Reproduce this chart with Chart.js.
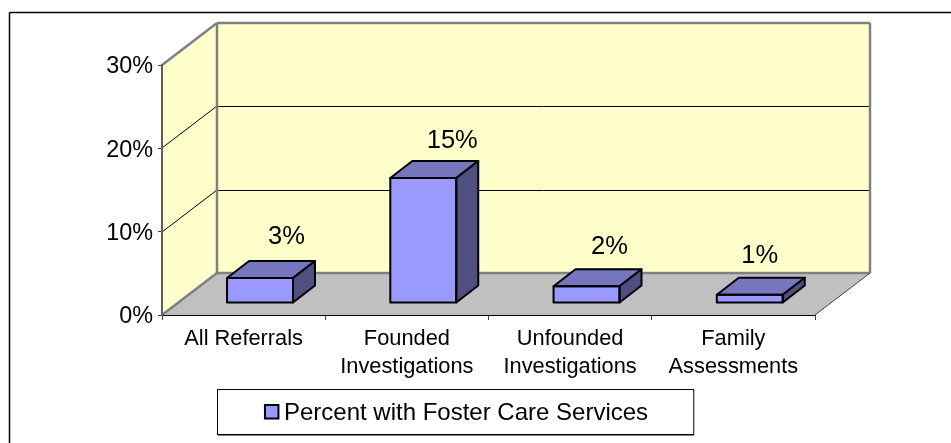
<!DOCTYPE html>
<html>
<head>
<meta charset="utf-8">
<title>Percent with Foster Care Services</title>
<script src="https://cdn.jsdelivr.net/npm/chart.js@4"></script>
<style>
  html, body { margin: 0; padding: 0; background: #fff; }
  canvas { display: block; }
</style>
</head>
<body>
<canvas id="fosterChart" width="951" height="443"></canvas>
<script>
const CATEGORIES = [
  ["All Referrals"],
  ["Founded", "Investigations"],
  ["Unfounded", "Investigations"],
  ["Family", "Assessments"]
];
const SERIES_NAME = "Percent with Foster Care Services";
const PERCENT_VALUES = [3, 15, 2, 1];
const VALUE_LABELS = ["3%", "15%", "2%", "1%"];
const Y_TICKS = [0, 10, 20, 30];

const FONT = "'Liberation Sans', Arial, sans-serif";
const CATEGORY_SIZE = 21.8;
const Y_TICK_SIZE = 23.4;
const VALUE_SIZE = 25.5;
const LEGEND_SIZE = 24;

// 3d look: how far the back wall and the bars sit from the front plane
const WALL_DEPTH = { x: 55, y: -42 };
const BAR_SHIFT = { x: 16.4, y: -12 };
const BAR_DEPTH = { x: 22, y: -17 };
// data labels were hand placed in the original, so they wander a bit
const LABEL_DX = [26.5, 29, 23, 10];
const LABEL_GAP = [17, 13, 15, 15];

function poly(ctx, pts, fill, stroke, lw) {
  ctx.beginPath();
  pts.forEach((p, i) => (i ? ctx.lineTo(p[0], p[1]) : ctx.moveTo(p[0], p[1])));
  ctx.closePath();
  if (fill) {
    ctx.fillStyle = fill;
    ctx.fill();
  }
  if (stroke) {
    ctx.strokeStyle = stroke;
    ctx.lineWidth = lw;
    ctx.stroke();
  }
}

function line(ctx, x0, y0, x1, y1, color, lw) {
  ctx.beginPath();
  ctx.moveTo(x0, y0);
  ctx.lineTo(x1, y1);
  ctx.strokeStyle = color;
  ctx.lineWidth = lw;
  ctx.stroke();
}

const wallsPlugin = {
  id: "walls",
  beforeDraw(chart) {
    const { ctx, chartArea: a, scales } = chart;
    const dx = WALL_DEPTH.x;
    const dy = WALL_DEPTH.y;

    ctx.save();

    // outer frame, only the top and left edges are inside the picture
    line(ctx, 9.5, 12.5, 951, 12.5, "#000", 1.5);
    line(ctx, 9.5, 12.5, 9.5, 443, "#000", 1.5);

    // back wall, side wall, floor
    poly(ctx, [[a.left + dx, a.top + dy], [a.right + dx, a.top + dy], [a.right + dx, a.bottom + dy], [a.left + dx, a.bottom + dy]], "#FFFFCC");
    poly(ctx, [[a.left, a.top], [a.left + dx, a.top + dy], [a.left + dx, a.bottom + dy], [a.left, a.bottom]], "#FFFFCC");
    poly(ctx, [[a.left, a.bottom], [a.left + dx, a.bottom + dy], [a.right + dx, a.bottom + dy], [a.right, a.bottom]], "#C0C0C0");

    // gridlines run along the side wall and across the back wall
    Y_TICKS.slice(1, -1).forEach(v => {
      const y = Math.round(scales.y.getPixelForValue(v));
      line(ctx, a.left, y, a.left + dx, y + dy, "#000", 1);
      line(ctx, a.left + dx, y + dy + 0.5, a.right + dx, y + dy + 0.5, "#000", 1);
    });

    // wall edges
    const grey = "#808080";
    line(ctx, a.left, a.top, a.left + dx, a.top + dy, grey, 2.5);
    line(ctx, a.left + dx, a.top + dy, a.right + dx, a.top + dy, grey, 2.5);
    line(ctx, a.right + dx, a.top + dy, a.right + dx, a.bottom + dy, grey, 2.5);
    line(ctx, a.left + dx, a.top + dy, a.left + dx, a.bottom + dy, grey, 2.5);
    line(ctx, a.left + dx, a.bottom + dy, a.right + dx, a.bottom + dy, grey, 2.5);
    line(ctx, a.left, a.bottom, a.left + dx, a.bottom + dy, grey, 2.5);
    line(ctx, a.right, a.bottom, a.right + dx, a.bottom + dy, "#404040", 1);

    ctx.restore();
  },
  beforeDatasetsDraw(chart) {
    chart.ctx.save();
    chart.ctx.translate(BAR_SHIFT.x, BAR_SHIFT.y);
  },
  afterDatasetsDraw(chart) {
    const ctx = chart.ctx;
    const bars = chart.getDatasetMeta(0).data;
    const dx = BAR_DEPTH.x;
    const dy = BAR_DEPTH.y;

    ctx.lineJoin = "round";
    bars.forEach(b => {
      const l = b.x - b.width / 2;
      const r = b.x + b.width / 2;
      const t = b.y;
      const base = b.base;
      poly(ctx, [[l, t], [l + dx, t + dy], [r + dx, t + dy], [r, t]], "#7676BE", "#000", 2);
      poly(ctx, [[r, t], [r + dx, t + dy], [r + dx, base + dy], [r, base]], "#4F4F80", "#000", 2);
      poly(ctx, [[l, t], [r, t], [r, base], [l, base]], null, "#000", 2);
    });
    ctx.restore();

    // value labels over the bars
    ctx.save();
    ctx.font = `${VALUE_SIZE}px ${FONT}`;
    ctx.fillStyle = "#000";
    ctx.textAlign = "center";
    ctx.textBaseline = "alphabetic";
    bars.forEach((b, i) => {
      const x = b.x + BAR_SHIFT.x + LABEL_DX[i];
      const y = b.y + BAR_SHIFT.y + dy - LABEL_GAP[i];
      ctx.fillText(VALUE_LABELS[i], x, y);
    });
    ctx.restore();
  },
  afterDraw(chart) {
    const ctx = chart.ctx;
    const hit = chart.legend.legendHitBoxes[0];

    ctx.save();
    // legend frame, heavier on the right and bottom
    ctx.strokeStyle = "#000";
    ctx.lineWidth = 1;
    ctx.strokeRect(217.5, 389.5, 476, 45);
    line(ctx, 694, 390, 694, 435.5, "#808080", 1);
    line(ctx, 218, 435.5, 694, 435.5, "#808080", 1);

    // legend swatch
    ctx.fillStyle = "#9999FF";
    ctx.strokeStyle = "#000";
    ctx.lineWidth = 2;
    ctx.fillRect(hit.left + 2, 405, 13.5, 13.5);
    ctx.strokeRect(hit.left + 2, 405, 13.5, 13.5);
    ctx.restore();
  }
};

new Chart(document.getElementById("fosterChart"), {
  type: "bar",
  plugins: [wallsPlugin],
  data: {
    labels: CATEGORIES,
    datasets: [{
      label: SERIES_NAME,
      data: PERCENT_VALUES,
      backgroundColor: "#9999FF",
      borderWidth: 0,
      barPercentage: 0.404,
      categoryPercentage: 1,
      clip: false
    }]
  },
  options: {
    responsive: false,
    animation: false,
    font: { family: FONT },
    layout: { padding: { left: 96, right: 136, top: 65, bottom: 8 } },
    plugins: {
      tooltip: { enabled: false },
      legend: {
        position: "bottom",
        labels: {
          color: "#000",
          font: { family: FONT, size: LEGEND_SIZE },
          boxWidth: 9,
          boxHeight: 0,
          padding: 11,
          generateLabels: chart => [{
            text: SERIES_NAME,
            fillStyle: "transparent",
            strokeStyle: "transparent",
            lineWidth: 0,
            datasetIndex: 0
          }]
        }
      }
    },
    scales: {
      x: {
        afterFit: s => { s.height = 75; },
        border: { color: "#000", width: 1 },
        grid: { drawOnChartArea: false, color: "#404040", tickLength: 5 },
        ticks: {
          color: "#000",
          maxRotation: 0,
          padding: 5,
          font: { family: FONT, size: CATEGORY_SIZE, lineHeight: 1.28 }
        }
      },
      y: {
        min: 0,
        max: 30,
        afterFit: s => { s.width = 66; },
        afterBuildTicks: s => { s.ticks = Y_TICKS.map(v => ({ value: v })); },
        border: { color: "#606060", width: 2 },
        grid: { drawOnChartArea: false, color: "#404040", tickLength: 4 },
        ticks: {
          color: "#000",
          padding: 5,
          labelOffset: 2,
          callback: v => v + "%",
          font: { family: FONT, size: Y_TICK_SIZE }
        }
      }
    }
  }
});
</script>
</body>
</html>
